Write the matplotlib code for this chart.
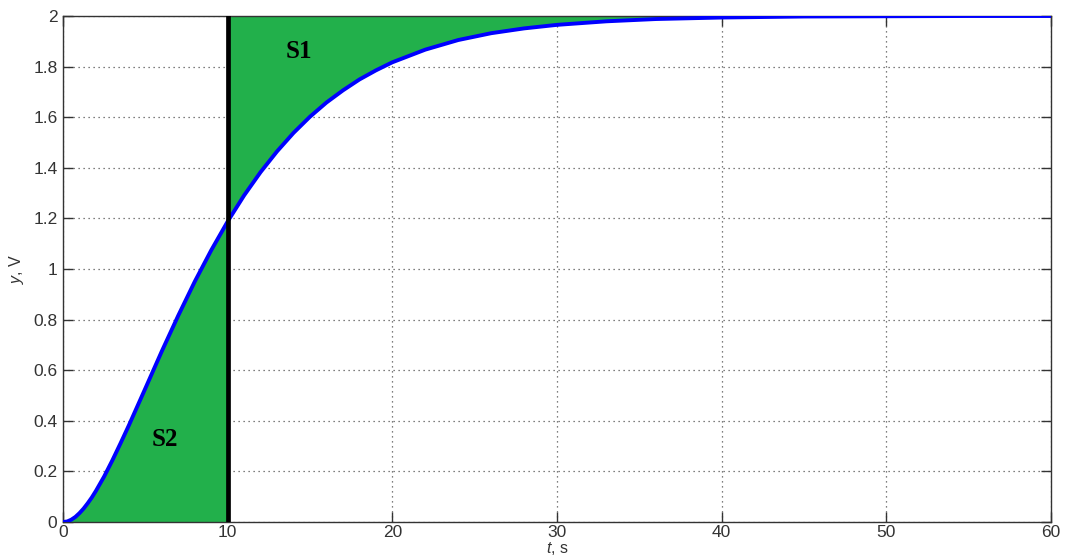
import matplotlib
matplotlib.use("Agg")
import matplotlib.pyplot as plt
import numpy as np

t = [0, 0.25, 0.5, 0.75, 1, 1.25, 1.5, 1.75, 2, 2.5, 3, 3.5, 4, 5, 6, 7, 8, 9, 10, 11, 12, 13,
     14, 15, 16, 17, 18, 19, 20, 22, 24, 26, 28, 30, 33, 36, 40, 45, 50, 55, 60]
y = [0, 0.002, 0.009, 0.020, 0.035, 0.053, 0.074, 0.097, 0.123, 0.180, 0.244, 0.312, 0.382,
     0.528, 0.675, 0.816, 0.950, 1.074, 1.188, 1.291, 1.383, 1.465, 1.538, 1.602, 1.658,
     1.706, 1.749, 1.785, 1.817, 1.867, 1.905, 1.932, 1.951, 1.965, 1.979, 1.988, 1.994,
     1.998, 1.999, 2.0, 2.0]
t_split = 10
y_max = 2
xticks = [0, 10, 20, 30, 40, 50, 60]
yticks = [0, 0.2, 0.4, 0.6, 0.8, 1, 1.2, 1.4, 1.6, 1.8, 2]
ytick_labels = ["0", "0.2", "0.4", "0.6", "0.8", "1", "1.2", "1.4", "1.6", "1.8", "2"]

plt.rcParams['font.family'] = ['Liberation Sans', 'DejaVu Sans']
plt.rcParams['mathtext.fontset'] = 'custom'
plt.rcParams['mathtext.it'] = 'Liberation Sans:italic'
plt.rcParams['mathtext.rm'] = 'Liberation Sans'
fig = plt.figure(figsize=(10.66, 5.59), dpi=100)
ax = fig.add_axes([63/1066, 1-522/559, (1051-63)/1066, (522-16)/559])

ta = np.array(t); ya = np.array(y)
green = '#22b04b'
m1 = ta <= t_split
m2 = ta >= t_split
ax.fill_between(ta[m1], 0, ya[m1], color=green, lw=0, zorder=1)
ax.fill_between(ta[m2], ya[m2], y_max, color=green, lw=0, zorder=1)
ax.plot(t, y, color='#0000ff', lw=2.8, zorder=3, solid_joinstyle='round')
ax.axvline(t_split, color='black', lw=3.4, zorder=4)

ax.set_xlim(0, 60)
ax.set_ylim(0, 2)
ax.set_xticks(xticks)
ax.set_yticks(yticks)
ax.set_yticklabels(ytick_labels)
ax.grid(True, linestyle=(0, (1, 3)), color='#555555', lw=0.9, zorder=0)
ax.set_axisbelow(True)
ax.tick_params(direction='in', top=True, right=True, length=7, width=1,
               colors='#333333', labelsize=12.5, labelcolor='#333333', pad=4)
ax.tick_params(axis='x', pad=2)
for s in ax.spines.values():
    s.set_color('#333333')
    s.set_linewidth(1)

ax.text(14.3, 1.86, 'S1', fontfamily='Liberation Serif', fontweight='bold', fontsize=18,
        ha='center', va='center', zorder=5)
ax.text(6.2, 0.325, 'S2', fontfamily='Liberation Serif', fontweight='bold', fontsize=18,
        ha='center', va='center', zorder=5)

ax.set_xlabel(r'$t$, s', fontsize=11.5, color='#333333', labelpad=0)
ax.set_ylabel(r'$y$, V', fontsize=11.5, color='#333333', labelpad=5)

fig.savefig('out.png', dpi=100)
